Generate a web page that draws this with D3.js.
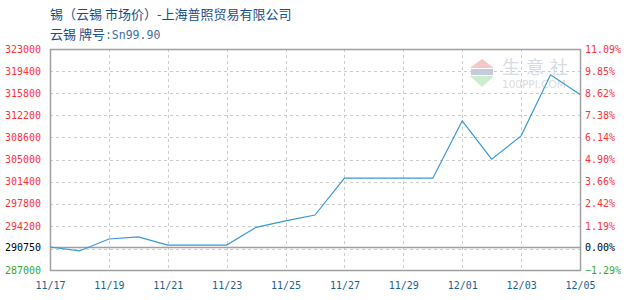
<!DOCTYPE html>
<html>
<head>
<meta charset="utf-8">
<script src="https://cdn.jsdelivr.net/npm/d3@7/dist/d3.min.js"></script>
<style>
  html, body { margin: 0; padding: 0; background: #fff; }
  svg { display: block; }
</style>
</head>
<body>
<svg id="chart" width="630" height="300"></svg>
<script>
// Daily tin price (云锡), RMB/ton
const dates = ["2023-11-17","2023-11-18","2023-11-19","2023-11-20","2023-11-21","2023-11-22",
  "2023-11-23","2023-11-24","2023-11-25","2023-11-26","2023-11-27","2023-11-28","2023-11-29",
  "2023-11-30","2023-12-01","2023-12-02","2023-12-03","2023-12-04","2023-12-05"];
const prices = [290750, 290100, 292050, 292400, 291050, 291050, 291050, 293950, 295000, 295950,
  301950, 301950, 301950, 301950, 311300, 305050, 308850, 318800, 315600];

const basePrice = 290750;
const priceTicks = [287000, 290750, 294200, 297800, 301400, 305000, 308600, 312200, 315800, 319400, 323000];
const dateTicks = ["2023-11-17","2023-11-19","2023-11-21","2023-11-23","2023-11-25",
  "2023-11-27","2023-11-29","2023-12-01","2023-12-03","2023-12-05"];

const titleText = "锡（云锡 市场价）-上海普照贸易有限公司";
const subtitleMain = "云锡 牌号";
const subtitleGrade = ":Sn99.90";

const parse = d3.timeParse("%Y-%m-%d");
const data = dates.map((d, i) => ({ date: parse(d), value: prices[i] }));

const svg = d3.select("#chart");
const plot = { left: 50, right: 580, top: 49, bottom: 270 };

const x = d3.scaleTime()
  .domain([parse(dates[0]), parse(dates[dates.length - 1])])
  .range([plot.left, plot.right]);
const y = d3.scaleLinear().domain([287000, 323000]).range([plot.bottom, plot.top]);

const monoFont = "'DejaVu Sans Mono', monospace";
const tickColor = v => v > basePrice ? "#ff3333" : (v < basePrice ? "#33aa33" : "#000");

// watermark
const wm = svg.append("g").attr("opacity", 0.55);
wm.append("path").attr("d", "M482,59 L494,68 L470,68 Z").attr("fill", "#ee9a9a");
wm.append("rect").attr("x", 471).attr("y", 69).attr("width", 22).attr("height", 6).attr("fill", "#9aa0c0");
wm.append("path").attr("d", "M470,76 L494,76 L482,87 Z").attr("fill", "#a5dca5");
wm.append("text").attr("x", 502).attr("y", 74)
  .attr("font-family", "'Noto Sans CJK SC', sans-serif").attr("font-size", 18)
  .attr("letter-spacing", 6).attr("fill", "#b8bcd4").text("生意社");
wm.append("text").attr("x", 502).attr("y", 88)
  .attr("font-family", "'DejaVu Sans', sans-serif").attr("font-size", 10.5)
  .attr("fill", "#bdbdbd").text("100PPI.COM");

// grid
const grid = svg.append("g");
grid.selectAll("line.h").data(priceTicks.filter(v => v !== 287000 && v !== 323000))
  .join("line").attr("class", "h")
  .attr("x1", plot.left).attr("x2", plot.right)
  .attr("y1", d => Math.round(y(d)) + (d === basePrice ? 2.5 : 0.5))
  .attr("y2", d => Math.round(y(d)) + (d === basePrice ? 2.5 : 0.5))
  .attr("stroke", "#cccccc").attr("stroke-dasharray", "3,3");
grid.selectAll("line.v").data(dateTicks.slice(1, -1))
  .join("line").attr("class", "v")
  .attr("y1", plot.top).attr("y2", plot.bottom)
  .attr("x1", d => Math.round(x(parse(d))) + 0.5).attr("x2", d => Math.round(x(parse(d))) + 0.5)
  .attr("stroke", "#cccccc").attr("stroke-dasharray", "3,3");

// frame and base line
svg.append("rect").attr("x", plot.left + 0.5).attr("y", plot.top + 0.5)
  .attr("width", plot.right - plot.left).attr("height", plot.bottom - plot.top)
  .attr("fill", "none").attr("stroke", "#a0a0a0").attr("stroke-width", 1.5);
svg.append("line").attr("x1", plot.left).attr("x2", plot.right)
  .attr("y1", Math.round(y(basePrice)) + 0.5).attr("y2", Math.round(y(basePrice)) + 0.5)
  .attr("stroke", "#a0a0a0").attr("stroke-width", 1.5);

// price line
svg.append("path").datum(data)
  .attr("fill", "none").attr("stroke", "#3a98d6").attr("stroke-width", 1.2)
  .attr("d", d3.line().x(d => x(d.date)).y(d => y(d.value)));

// left axis: price
const yLeft = svg.append("g").attr("transform", `translate(${plot.left - 9},0)`)
  .call(d3.axisLeft(y).tickValues(priceTicks).tickSize(0).tickPadding(0).tickFormat(d3.format("d")));
yLeft.select(".domain").remove();
yLeft.selectAll("text").attr("font-family", monoFont).attr("font-size", 10)
  .attr("fill", d => tickColor(d));

// right axis: change relative to base price
const yRight = svg.append("g").attr("transform", `translate(${plot.right + 5},0)`)
  .call(d3.axisRight(y).tickValues(priceTicks).tickSize(0).tickPadding(0)
    .tickFormat(d => d3.format(".2f")((d - basePrice) / basePrice * 100) + "%"));
yRight.select(".domain").remove();
yRight.selectAll("text").attr("font-family", monoFont).attr("font-size", 10)
  .attr("fill", d => tickColor(d));

// bottom axis: dates
const xAxis = svg.append("g").attr("transform", `translate(0,${plot.bottom + 12})`)
  .call(d3.axisBottom(x).tickValues(dateTicks.map(parse)).tickSize(0).tickPadding(0)
    .tickFormat(d3.timeFormat("%m/%d")));
xAxis.select(".domain").remove();
xAxis.selectAll("text").attr("font-family", monoFont).attr("font-size", 10).attr("fill", "#1d5f91");

// titles
svg.append("text").attr("x", 50).attr("y", 19)
  .attr("font-family", "'Noto Sans CJK SC', sans-serif").attr("font-size", 13)
  .attr("fill", "#154f88").text(titleText);
const sub = svg.append("text").attr("x", 50).attr("y", 39)
  .attr("font-family", "'Noto Sans CJK SC', sans-serif").attr("font-size", 13).attr("fill", "#154f88");
sub.append("tspan").text(subtitleMain);
sub.append("tspan").attr("font-family", monoFont).attr("font-size", 11.5).attr("fill", "#3f6f9e").text(subtitleGrade);
</script>
</body>
</html>
